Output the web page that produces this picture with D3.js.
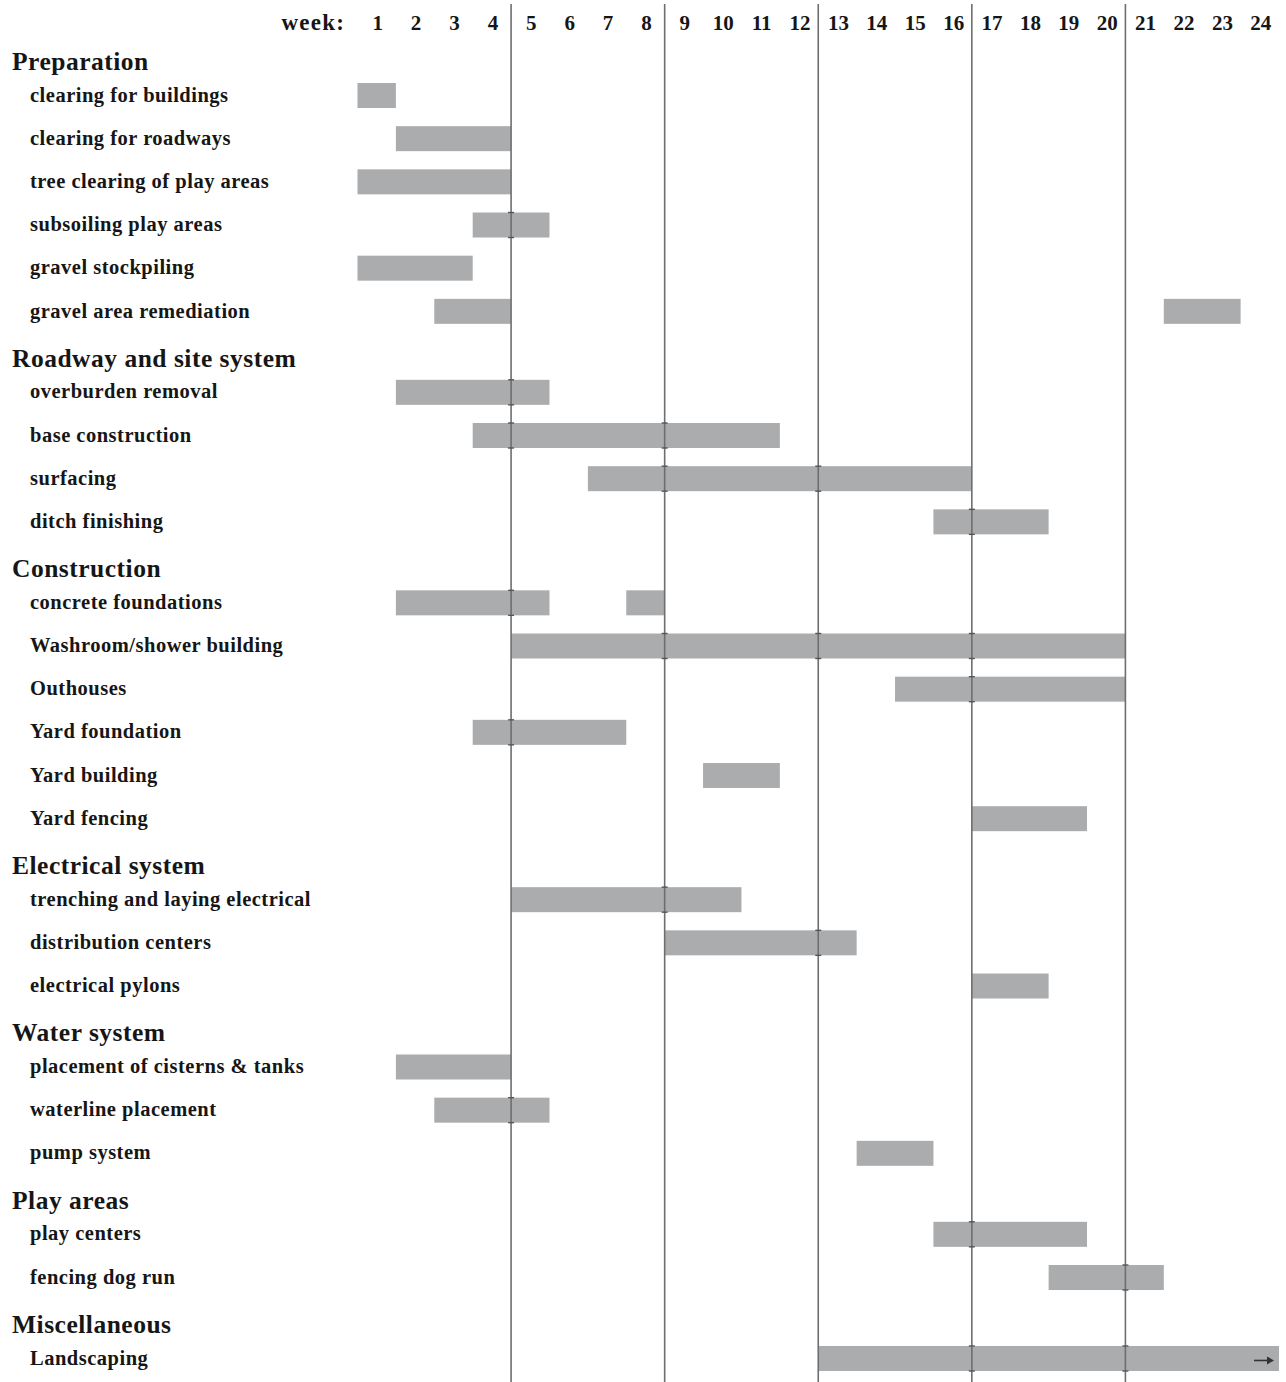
<!DOCTYPE html>
<html>
<head>
<meta charset="utf-8">
<script src="https://cdn.jsdelivr.net/npm/d3@7"></script>
<style>
  body { margin: 0; background: #fff; }
  svg { display: block; }
  text { font-family: "Liberation Serif", "DejaVu Serif", serif; font-weight: bold; fill: #161616; }
</style>
</head>
<body>
<svg id="chart"></svg>
<script>
const width = 1286;
const height = 1382;

// week numbers across the top
const weeks = [1, 2, 3, 4, 5, 6, 7, 8, 9, 10, 11, 12, 13, 14, 15, 16, 17, 18, 19, 20, 21, 22, 23, 24];
// week boundaries that get a vertical rule
const dividers = [4, 8, 12, 16, 20];

const groups = [
  'Preparation',
  'Roadway and site system',
  'Construction',
  'Electrical system',
  'Water system',
  'Play areas',
  'Miscellaneous'
];

const taskNames = [
  'clearing for buildings',
  'clearing for roadways',
  'tree clearing of play areas',
  'subsoiling play areas',
  'gravel stockpiling',
  'gravel area remediation',
  'overburden removal',
  'base construction',
  'surfacing',
  'ditch finishing',
  'concrete foundations',
  'Washroom/shower building',
  'Outhouses',
  'Yard foundation',
  'Yard building',
  'Yard fencing',
  'trenching and laying electrical',
  'distribution centers',
  'electrical pylons',
  'placement of cisterns & tanks',
  'waterline placement',
  'pump system',
  'play centers',
  'fencing dog run',
  'Landscaping'
];

const taskGroup = [0, 0, 0, 0, 0, 0, 1, 1, 1, 1, 2, 2, 2, 2, 2, 2, 3, 3, 3, 4, 4, 4, 5, 5, 6];

// [start, end] in weeks elapsed (0 = start of week 1)
const taskBars = [
  [[0, 1]],
  [[1, 4]],
  [[0, 4]],
  [[3, 5]],
  [[0, 3]],
  [[2, 4], [21, 23]],
  [[1, 5]],
  [[3, 11]],
  [[6, 16]],
  [[15, 18]],
  [[1, 5], [7, 8]],
  [[4, 20]],
  [[14, 20]],
  [[3, 7]],
  [[9, 11]],
  [[16, 19]],
  [[4, 10]],
  [[8, 13]],
  [[16, 18]],
  [[1, 4]],
  [[2, 5]],
  [[13, 15]],
  [[15, 19]],
  [[18, 21]],
  [[12, 24]]
];
// tasks whose bar runs on past the chart
const continuing = ['Landscaping'];

// ---- layout in row units ----
const groupGap = 1.876;   // last task -> next group's first task
const headLead = 0.79;    // heading sits this far above its first task
let u = 0;
const rows = taskNames.map((name, i) => {
  if (i > 0) u += taskGroup[i] !== taskGroup[i - 1] ? groupGap : 1;
  return { name, group: taskGroup[i], u, bars: taskBars[i] };
});
const heads = groups.map((g, gi) => {
  const first = rows.find(r => r.group === gi);
  return { name: g, u: first.u - headLead };
});

const x = d3.scaleLinear().domain([0, 24]).range([357.5, 1279]);
const y = d3.scaleLinear().domain([0, 1]).range([95.5, 95.5 + 43.17]);
const barH = 25;

const svg = d3.select('#chart').attr('width', width).attr('height', height);

/* bars */
const bars = svg.append('g');
rows.forEach(r => {
  bars.selectAll(null)
    .data(r.bars)
    .enter()
    .append('rect')
    .attr('x', d => x(d[0]))
    .attr('y', y(r.u) - barH / 2)
    .attr('width', d => x(d[1]) - x(d[0]))
    .attr('height', barH)
    .attr('fill', '#aaacae');
});

/* vertical week rules */
svg.append('g')
  .selectAll('line')
  .data(dividers)
  .enter()
  .append('line')
  .attr('x1', d => x(d))
  .attr('x2', d => x(d))
  .attr('y1', 4)
  .attr('y2', height)
  .attr('stroke', '#6e6e6e')
  .attr('stroke-width', 1.6);

/* little ticks where a rule crosses a bar edge */
const ticks = [];
rows.forEach(r => r.bars.forEach(b => dividers.forEach(dv => {
  if (dv > b[0] && dv < b[1]) {
    ticks.push({ x: x(dv), y: y(r.u) - barH / 2 });
    ticks.push({ x: x(dv), y: y(r.u) + barH / 2 });
  }
})));
svg.append('g')
  .selectAll('line')
  .data(ticks)
  .enter()
  .append('line')
  .attr('x1', d => d.x - 3)
  .attr('x2', d => d.x + 3)
  .attr('y1', d => d.y)
  .attr('y2', d => d.y)
  .attr('stroke', '#555')
  .attr('stroke-width', 1.4);

/* continuation arrow */
const arrowG = svg.append('g');
rows.filter(r => continuing.includes(r.name)).forEach(r => {
  const yy = y(r.u) + 2;
  const xe = x(24) - 5;
  arrowG.append('line')
    .attr('x1', xe - 20).attr('x2', xe - 5)
    .attr('y1', yy).attr('y2', yy)
    .attr('stroke', '#333').attr('stroke-width', 1.6);
  arrowG.append('path')
    .attr('d', `M${xe - 7},${yy - 4}L${xe},${yy}L${xe - 7},${yy + 4}Z`)
    .attr('fill', '#333');
});

/* week header */
svg.append('text')
  .attr('x', 345)
  .attr('y', 30)
  .attr('text-anchor', 'end')
  .style('font-size', '23px')
  .style('letter-spacing', '1.2px')
  .text('week:');

svg.append('g')
  .selectAll('text')
  .data(weeks)
  .enter()
  .append('text')
  .attr('x', d => x(d - 0.5) + 1)
  .attr('y', 30)
  .attr('text-anchor', 'middle')
  .style('font-size', '21px')
  .text(d => d);

/* group headings */
svg.append('g')
  .selectAll('text')
  .data(heads)
  .enter()
  .append('text')
  .attr('x', 12)
  .attr('y', d => y(d.u))
  .attr('dy', '0.33em')
  .style('font-size', '25.5px')
  .style('letter-spacing', '0.5px')
  .text(d => d.name);

/* task labels */
svg.append('g')
  .selectAll('text')
  .data(rows)
  .enter()
  .append('text')
  .attr('x', 30)
  .attr('y', d => y(d.u))
  .attr('dy', '0.3em')
  .style('font-size', '20.5px')
  .style('letter-spacing', '0.5px')
  .text(d => d.name);
</script>
</body>
</html>
